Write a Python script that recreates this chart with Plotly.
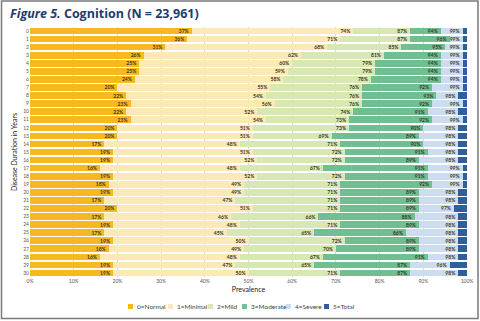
import plotly.graph_objects as go

years = list(range(31))
# cumulative percentages
cum_normal   = [37,36,31,26,25,25,24,20,22,23,22,23,20,20,17,19,19,16,19,18,19,17,20,17,19,17,19,18,16,19,19]
cum_minimal  = [74,71,68,62,60,59,58,55,54,56,52,54,51,51,48,51,52,48,52,49,49,47,51,46,48,45,50,49,48,47,50]
cum_mild     = [87,87,85,81,79,79,78,76,76,76,74,73,73,69,71,72,72,67,72,71,71,71,71,66,71,65,72,70,67,65,71]
cum_moderate = [94,96,95,94,94,94,94,92,93,92,91,92,90,89,90,91,89,91,91,92,89,89,89,88,89,86,89,89,91,87,87]
cum_severe   = [99,99,99,99,99,99,99,99,98,99,98,99,98,98,98,98,98,99,99,99,98,98,97,98,98,98,98,98,98,96,98]

names = ["0=Normal", "1=Minimal", "2=Mild", "3=Moderate", "4=Severe", "5=Total"]
colors = ["#F8B920", "#FDE9B6", "#D7E8B4", "#6FBF91", "#CCDDF1", "#2E5E9C"]

cums = [cum_normal, cum_minimal, cum_mild, cum_moderate, cum_severe, [100]*31]

W, H = 480, 321
ML, MR, MT, MB = 30, 13, 27, 44
PW, PH = W - ML - MR, H - MT - MB

def px2x(px):
    return (px - ML) / PW

def py2y(py):
    return (H - MB - py) / PH

fig = go.Figure()
prev = [0]*31
for i, (nm, col, cum) in enumerate(zip(names, colors, cums)):
    widths = [c - p for c, p in zip(cum, prev)]
    txt = [f"<b>{c}%</b>" for c in cum] if i < 5 else None
    fig.add_trace(go.Bar(
        y=years, x=widths, orientation="h", name=nm,
        marker=dict(color=col, line=dict(width=0)),
        text=txt, textposition="inside" if txt else "none",
        insidetextanchor="end", textangle=0, constraintext="none",
        textfont=dict(size=5, color="#3b3522", family="Lato"),
        hoverinfo="skip", showlegend=False,
    ))
    prev = cum

# legend (drawn compactly like the reference)
leg_sym_px = [128, 168, 208, 242, 286, 324]
leg_y = 306.5
for nm, col, sx in zip(names, colors, leg_sym_px):
    fig.add_shape(type="rect", xref="paper", yref="paper",
                  x0=px2x(sx), x1=px2x(sx + 5), y0=py2y(leg_y + 2.5), y1=py2y(leg_y - 2.5),
                  fillcolor=col, line=dict(width=0))
    fig.add_annotation(text=nm, xref="paper", yref="paper", x=px2x(sx + 6.5), y=py2y(leg_y),
                       xanchor="left", yanchor="middle", showarrow=False,
                       font=dict(size=6.5, color="#444444", family="Lato"))

fig.update_layout(
    barmode="stack", bargap=0.18,
    width=W, height=H,
    margin=dict(l=ML, r=MR, t=MT, b=MB, autoexpand=False),
    paper_bgcolor="white", plot_bgcolor="white",
    font=dict(family="Lato", color="#333333"),
    title=dict(text="<b><i>Figure 5.</i> Cognition (N = 23,961)</b>",
               x=0.021, xanchor="left", y=0.958, yanchor="middle",
               font=dict(size=12.5, color="#1F3B70", family="Open Sans")),
    xaxis=dict(range=[0, 100], tickvals=list(range(0, 101, 10)),
               ticktext=[f"{v}%" for v in range(0, 101, 10)],
               showgrid=True, gridcolor="#d9d9d9", gridwidth=1,
               zeroline=False, tickfont=dict(size=5, color="#555555"),
               ticks="", showline=False,
               title=dict(text="Prevalence", font=dict(size=7, color="#222222"), standoff=4)),
    yaxis=dict(range=[30.5, -0.5], tickvals=years, ticktext=[str(y) for y in years],
               tickfont=dict(size=5, color="#555555"), showgrid=False, zeroline=False,
               ticks="", title=dict(text="Disease Duration in Years",
                                   font=dict(size=7, color="#222222"), standoff=4)),
    showlegend=False,
)

# outer frame
fig.add_shape(type="rect", xref="paper", yref="paper",
              x0=px2x(1.5), x1=px2x(478), y0=py2y(318.5), y1=py2y(1),
              line=dict(color="#7a7a7a", width=1.5), fillcolor="rgba(0,0,0,0)", layer="below")

fig.write_html("out.html")
